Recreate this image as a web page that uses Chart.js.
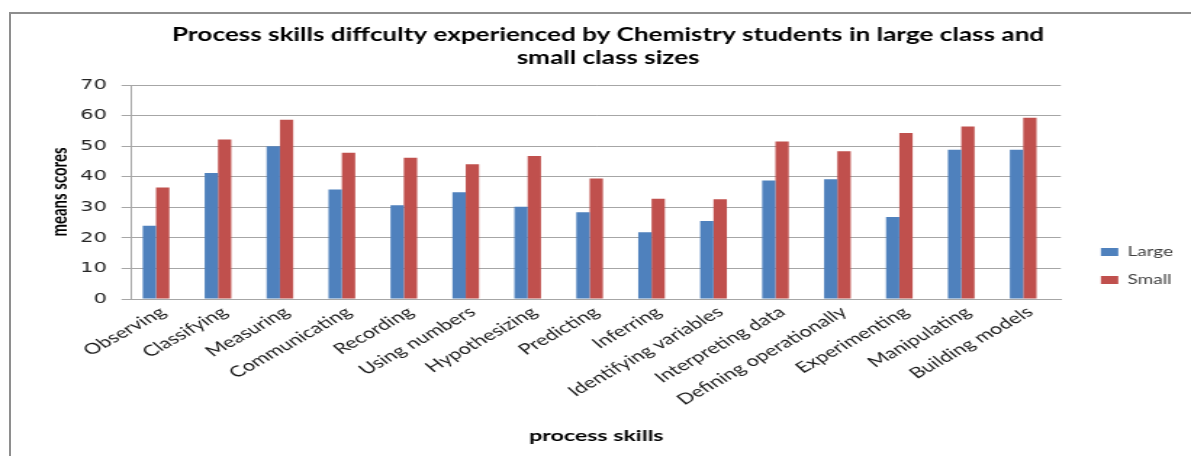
<!DOCTYPE html>
<html>
<head>
<meta charset="utf-8">
<script src="https://cdn.jsdelivr.net/npm/chart.js@4/dist/chart.umd.min.js"></script>
<style>
  html, body { margin: 0; padding: 0; background: #fff; overflow: hidden; width: 1191px; height: 456px; }
  #frame { position: absolute; left: 9px; top: 12px; width: 1300px; height: 600px; border: 2px solid #8e8e8e; }
  #c { position: absolute; left: 0; top: 0; width: 1191px; height: 456px; }
</style>
</head>
<body>
<div id="frame"></div>
<canvas id="c" width="821" height="456" style="width:1191px;height:456px"></canvas>
<script>
// ---- data ----
const categories = ['Observing', 'Classifying', 'Measuring', 'Communicating', 'Recording', 'Using numbers',
  'Hypothesizing', 'Predicting', 'Inferring', 'Identifying variables', 'Interpreting data',
  'Defining operationally', 'Experimenting', 'Manipulating', 'Building models'];
const largeScores = [24.0, 41.2, 50.0, 35.8, 30.7, 34.9, 30.2, 28.4, 21.8, 25.5, 38.8, 39.2, 26.8, 48.8, 48.8];
const smallScores = [36.5, 52.2, 58.6, 47.8, 46.2, 44.1, 46.8, 39.4, 32.8, 32.6, 51.5, 48.3, 54.3, 56.4, 59.3];
const seriesNames = ['Large', 'Small'];
const yTicks = [0, 10, 20, 30, 40, 50, 60, 70];
const titleLines = ['Process skills diffculty experienced by Chemistry students in large class and', 'small class sizes'];
const xTitle = 'process skills';
const yTitle = 'means scores';

const legendNudge = {
  id: 'legendNudge',
  afterLayout(chart) {
    const lg = chart.legend;
    if (!lg) return;
    const dx = 12.6, dy = 2.5;
    lg.left += dx; lg.right += dx; lg.top += dy; lg.bottom += dy;
  }
};

new Chart(document.getElementById('c'), {
  type: 'bar',
  data: {
    labels: categories,
    datasets: [
      { label: seriesNames[0], data: largeScores, backgroundColor: '#4F81BD', borderWidth: 0 },
      { label: seriesNames[1], data: smallScores, backgroundColor: '#C0504D', borderWidth: 0 },
      { label: '', data: [], backgroundColor: 'rgba(0,0,0,0)' }
    ]
  },
  plugins: [legendNudge],
  options: {
    responsive: false,
    devicePixelRatio: 1,
    animation: false,
    layout: { padding: { left: 32.4, right: 15, top: 0, bottom: 0 } },
    datasets: { bar: { categoryPercentage: 0.645, barPercentage: 1.0 } },
    plugins: {
      title: {
        display: true,
        text: titleLines,
        color: '#000',
        font: { family: 'Lato', size: 18, weight: 'bold', lineHeight: 1.278 },
        padding: { top: 23.5, bottom: 15.5 }
      },
      legend: {
        position: 'right',
        align: 'end',
        fullSize: false,
        labels: {
          boxWidth: 12, boxHeight: 8, padding: 15,
          color: '#404040',
          font: { family: 'Lato', size: 13 },
          filter: (item) => item.datasetIndex < 2
        }
      },
      tooltip: { enabled: false }
    },
    scales: {
      x: {
        grid: { display: false, drawTicks: false },
        border: { display: true, color: '#a6a6a6', width: 1 },
        ticks: {
          autoSkip: false, minRotation: 39, maxRotation: 39, padding: 4,
          color: '#1a1a1a', font: { family: 'Lato', size: 15 }
        },
        title: {
          display: true, text: xTitle, color: '#000',
          font: { family: 'Lato', size: 16, weight: 'bold', lineHeight: 1.2 },
          padding: { top: 0, bottom: 11 }
        },
        afterFit(s) { s.height = 157; }
      },
      y: {
        min: 0, max: 70,
        afterBuildTicks(s) { s.ticks = yTicks.map(v => ({ value: v })); },
        grid: { color: '#a6a6a6', lineWidth: 1, tickLength: 7, drawTicks: true },
        border: { display: true, color: '#a6a6a6', width: 1 },
        ticks: { padding: 10, color: '#262626', font: { family: 'DejaVu Sans', size: 14.5 } },
        title: {
          display: true, text: yTitle, color: '#000',
          font: { family: 'Lato', size: 15, weight: 'bold', lineHeight: 1.2 },
          padding: { top: 0, bottom: 7 }
        },
        afterFit(s) { s.width = 58.4; }
      }
    }
  }
});
</script>
</body>
</html>
